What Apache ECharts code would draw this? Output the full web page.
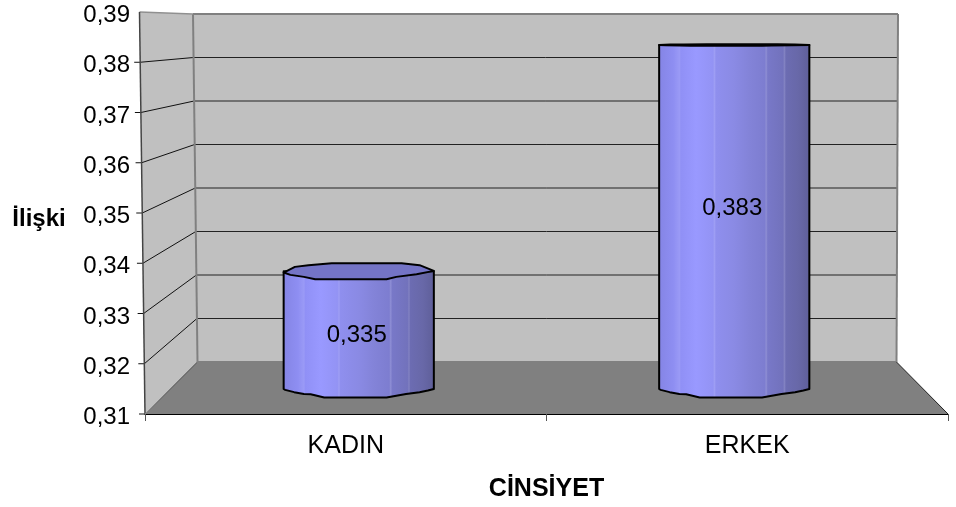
<!DOCTYPE html>
<html><head><meta charset="utf-8">
<script src="https://cdn.jsdelivr.net/npm/echarts@6/dist/echarts.min.js"></script>
<style>html,body{margin:0;padding:0;background:#fff}#c{width:956px;height:507px}</style>
</head><body><div id="c"></div>
<script>
const categories = ['KADIN', 'ERKEK'];
const values = [0.335, 0.383];
const valueLabels = ['0,335', '0,383'];
const ticks = [0.31, 0.32, 0.33, 0.34, 0.35, 0.36, 0.37, 0.38, 0.39];
const xTitle = 'CİNSİYET';
const yTitle = 'İlişki';

const FONT = '"Liberation Sans", Arial, sans-serif';
const front = {top: 12, bottom: 414, leftTop: 139.5, leftBottom: 145, right: 948};
const back = {top: 14, bottom: 362, leftTop: 193, leftBottom: 197.5, rightTop: 898, rightBottom: 896.5};
const labelShift = [5, -9];
const topShape = [[-1,.17],[-.85,-.54],[-.67,-.75],[-.36,-1],[.57,-1],[.81,-.75],[1,-.04],[.77,.38],[.5,.71],[.37,1],[-.58,1],[-.73,.71],[-.91,.46]];
const bottomShape = [[-1,0],[-.98,.1],[-.86,.37],[-.73,.6],[-.64,.62],[-.46,1],[.37,1],[.5,.8],[.63,.6],[.81,.37],[.92,.18],[1,0]];
const bodyStops = [
  [0,'#8484e4'],[.1,'#8e8ef2'],[.14,'#9a9af6'],[.15,'#9090f6'],[.25,'#9999ff'],[.36,'#9393f4'],[.37,'#9e9ef4'],[.38,'#8f8fee'],
  [.5,'#8a8ae4'],[.6,'#8383d8'],[.7,'#7d7dd0'],[.71,'#8e8ed4'],[.72,'#7878c8'],[.82,'#7272bc'],[.83,'#8282c2'],[.84,'#6c6cb2'],[.92,'#6868a8'],[1,'#5e5e98']
].map(s => ({offset: s[0], color: s[1]}));

const lerp = (a, b, t) => a + (b - a) * t;
const backX0 = y => lerp(back.leftTop, back.leftBottom, (y - back.top) / (back.bottom - back.top));
const backX1 = y => lerp(back.rightTop, back.rightBottom, (y - back.top) / (back.bottom - back.top));
const frontX = y => lerp(front.leftTop, front.leftBottom, (y - front.top) / (front.bottom - front.top));

function renderShell(params, api) {
  return {type: 'group', silent: true, children: [
    {type: 'polygon', shape: {points: [[front.leftTop, front.top],[back.leftTop, back.top],[back.leftBottom, back.bottom],[front.leftBottom, front.bottom]]},
      style: {fill: '#c0c0c0', stroke: null}},
    {type: 'polygon', shape: {points: [[back.leftTop, back.top],[back.rightTop, back.top],[back.rightBottom, back.bottom],[back.leftBottom, back.bottom]]},
      style: {fill: '#c0c0c0', stroke: null}},
    {type: 'polygon', shape: {points: [[back.leftBottom, back.bottom],[back.rightBottom, back.bottom],[front.right, front.bottom],[front.leftBottom, front.bottom]]},
      style: {fill: '#808080', stroke: null}}
  ]};
}
function renderGrid(params, api) {
  const v = api.value(1);
  const y = api.coord([0, v])[1];
  const t = (y - back.top) / (back.bottom - back.top);
  const fy = lerp(front.top, front.bottom, t);
  const children = [];
  if (v > ticks[0] && v < ticks[ticks.length - 1]) {
    children.push({type: 'line', shape: {x1: backX0(y), y1: y, x2: backX1(y), y2: y}, style: {stroke: '#222', lineWidth: 1}});
  }
  if (v < ticks[ticks.length - 1]) {
    children.push({type: 'polyline', shape: {points: [[frontX(fy) - 6, fy],[frontX(fy), fy],[backX0(y), y]]}, style: {stroke: '#111', lineWidth: 1, fill: null}});
  }
  return {type: 'group', silent: true, children};
}
function renderEdges() {
  const gray = {stroke: '#808080', lineWidth: 2, fill: null};
  return {type: 'group', silent: true, children: [
    {type: 'line', shape: {x1: back.leftTop, y1: back.top, x2: back.leftBottom, y2: back.bottom}, style: gray},
    {type: 'line', shape: {x1: back.leftTop, y1: back.top, x2: back.rightTop, y2: back.top}, style: gray},
    {type: 'line', shape: {x1: back.rightTop, y1: back.top, x2: back.rightBottom, y2: back.bottom}, style: gray},
    {type: 'line', shape: {x1: back.leftBottom, y1: back.bottom, x2: back.rightBottom, y2: back.bottom}, style: gray},
    {type: 'line', shape: {x1: front.leftTop, y1: front.top, x2: back.leftTop, y2: back.top}, style: {stroke: '#909090', lineWidth: 1.5}},
    {type: 'line', shape: {x1: front.leftTop, y1: front.top, x2: front.leftBottom, y2: front.bottom}, style: {stroke: '#444', lineWidth: 1.5}},
    {type: 'line', shape: {x1: front.leftBottom, y1: front.bottom, x2: back.leftBottom, y2: back.bottom}, style: {stroke: '#909090', lineWidth: 1}},
    {type: 'line', shape: {x1: front.right, y1: front.bottom, x2: back.rightBottom, y2: back.bottom}, style: {stroke: '#222', lineWidth: 1}}
  ]};
}
function renderCylinder(params, api) {
  const i = api.value(0);
  const top = api.coord([i, api.value(1)]);
  const base = api.coord([i, ticks[0]]);
  const rx = api.size([1, 0])[0] * 0.2;
  const cx = top[0];
  const ryTop = Math.min(8, 0.7 + (top[1] - 45) * 7.3 / 225);
  const ryBase = 8.5;
  const body = [[cx - rx, top[1]]].concat(
    bottomShape.map(p => [cx + p[0] * rx, base[1] + p[1] * ryBase]),
    [[cx + rx, top[1]]]);
  const cap = topShape.map(p => [cx + p[0] * rx, top[1] + p[1] * ryTop]);
  return {type: 'group', children: [
    {type: 'polygon', shape: {points: body}, style: {
      fill: {type: 'linear', x: 0, y: 0, x2: 1, y2: 0, colorStops: bodyStops},
      stroke: '#000', lineWidth: 2, lineJoin: 'round'}},
    {type: 'polygon', shape: {points: cap}, style: {fill: '#7474c6', stroke: '#000', lineWidth: 2, lineJoin: 'round'}},
    {type: 'text', style: {text: valueLabels[params.dataIndex], x: cx - 2, y: (top[1] + base[1]) / 2 + labelShift[params.dataIndex],
      align: 'center', verticalAlign: 'middle', font: '24px ' + FONT, fill: '#000'}, z2: 5}
  ]};
}

const valueBase = {type: 'value', min: 0.31, max: 0.39, interval: 0.01};
const chart = echarts.init(document.getElementById('c'), null, {renderer: 'canvas'});
chart.setOption({
  animation: false,
  backgroundColor: '#fff',
  textStyle: {fontFamily: FONT},
  grid: [
    {left: 145, width: 803, top: 15.5, height: 402, outerBoundsMode: 'none'},
    {left: 195, width: 703, top: 14, height: 348, outerBoundsMode: 'none'},
    {left: 171, width: 751, top: 12, height: 377, outerBoundsMode: 'none'},
    {left: 145, width: 803, top: 12, height: 402, outerBoundsMode: 'none'}
  ],
  xAxis: [
    {gridIndex: 0, type: 'category', data: categories, show: false},
    {gridIndex: 1, type: 'value', min: 0, max: 1, show: false},
    {gridIndex: 2, type: 'category', data: categories, show: false},
    {gridIndex: 3, type: 'category', data: categories,
      axisLine: {show: true, onZero: false, lineStyle: {color: '#000', width: 1}},
      axisTick: {show: true, length: 7, alignWithLabel: false, lineStyle: {color: '#555'}},
      axisLabel: {color: '#000', fontSize: 25, fontFamily: FONT, margin: 20},
      name: xTitle, nameLocation: 'middle', nameGap: 63,
      nameTextStyle: {color: '#000', fontSize: 25, fontWeight: 'bold', fontFamily: FONT}}
  ],
  yAxis: [
    Object.assign({}, valueBase, {gridIndex: 0,
      axisLine: {show: false}, axisTick: {show: false}, splitLine: {show: false},
      axisLabel: {color: '#000', fontSize: 24, fontFamily: FONT, margin: 15,
        formatter: v => v.toFixed(2).replace('.', ',')}}),
    Object.assign({}, valueBase, {gridIndex: 1, show: false}),
    Object.assign({}, valueBase, {gridIndex: 2, show: false}),
    Object.assign({}, valueBase, {gridIndex: 3, show: false})
  ],
  graphic: [{type: 'text', silent: true, style: {text: yTitle, x: 39, y: 219, align: 'center', verticalAlign: 'middle',
    font: 'bold 24px ' + FONT, fill: '#000'}}],
  series: [
    {type: 'custom', name: 'shell', xAxisIndex: 1, yAxisIndex: 1, z: -2, silent: true, data: [[0, ticks[0]]], renderItem: renderShell, clip: false},
    {type: 'custom', name: 'grid', xAxisIndex: 1, yAxisIndex: 1, z: -1, silent: true, data: ticks.map(t => [0, t]), renderItem: renderGrid, clip: false},
    {type: 'custom', name: 'edges', xAxisIndex: 1, yAxisIndex: 1, z: -1, silent: true, data: [[0, ticks[0]]], renderItem: renderEdges, clip: false},
    {type: 'custom', name: 'İlişki', xAxisIndex: 2, yAxisIndex: 2, z: 3, data: values.map((v, i) => [i, v]), renderItem: renderCylinder, clip: false,
      encode: {x: 0, y: 1}}
  ]
});
</script></body></html>
